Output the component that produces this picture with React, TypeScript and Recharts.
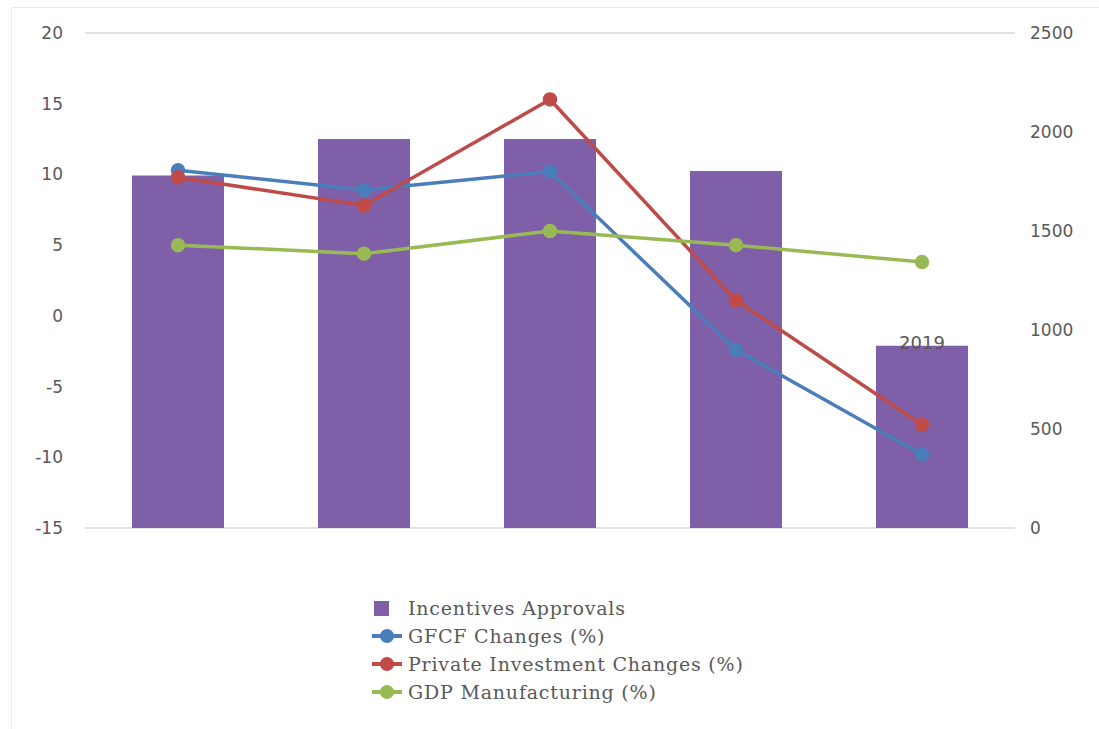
import React from 'react';
import { ComposedChart, Bar, Line, XAxis, YAxis, CartesianGrid, Legend, LabelList } from 'recharts';

const years = ['2015', '2016', '2017', '2018', '2019'];
const incentives = [1780, 1965, 1965, 1803, 920];
const gfcf = [10.3, 8.9, 10.2, -2.4, -9.8];
const privateInv = [9.8, 7.8, 15.3, 1.1, -7.7];
const gdpManuf = [5.0, 4.4, 6.0, 5.0, 3.8];

const leftTicks = [-15, -10, -5, 0, 5, 10, 15, 20];
const rightTicks = [0, 500, 1000, 1500, 2000, 2500];

const data = years.map((year, i) => ({
  year,
  incentives: incentives[i],
  gfcf: gfcf[i],
  privateInv: privateInv[i],
  gdpManuf: gdpManuf[i],
}));

const PURPLE = '#7f60a8';
const BLUE = '#4a7ebb';
const RED = '#be4b48';
const GREEN = '#98b954';
const TEXT = '#595959';

const legendItems = [
  { label: 'Incentives Approvals', color: PURPLE, type: 'bar' },
  { label: 'GFCF Changes (%)', color: BLUE, type: 'line' },
  { label: 'Private Investment Changes (%)', color: RED, type: 'line' },
  { label: 'GDP Manufacturing (%)', color: GREEN, type: 'line' },
];

const renderLegend = () => (
  <div style={{ fontFamily: '"DejaVu Serif", serif', fontSize: 19, letterSpacing: 0.8, color: TEXT }}>
    {legendItems.map((item) => (
      <div key={item.label} style={{ display: 'flex', alignItems: 'center', height: 28 }}>
        <svg width={34} height={20} style={{ marginRight: 2 }}>
          {item.type === 'bar' ? (
            <rect x={2} y={3} width={15} height={15} fill={item.color} />
          ) : (
            <>
              <line x1={0} y1={10} x2={30} y2={10} stroke={item.color} strokeWidth={4} />
              <circle cx={15} cy={10} r={7} fill={item.color} />
            </>
          )}
        </svg>
        <span>{item.label}</span>
      </div>
    ))}
  </div>
);

const tickStyle = { fill: TEXT, fontSize: 17, fontFamily: '"DejaVu Sans", sans-serif' };

export default function App() {
  return (
    <div style={{ position: 'absolute', left: 0, top: 0, width: 1099, height: 729, background: '#fff', overflow: 'hidden' }}>
      <div style={{ position: 'absolute', left: 11, top: 7, width: 1200, height: 800, borderLeft: '1px solid #ececec', borderTop: '1px solid #ececec' }} />
      <ComposedChart
        width={1099}
        height={729}
        data={data}
        margin={{ top: 33, right: 0, bottom: 201, left: 0 }}
        style={{ position: 'absolute', left: 0, top: 0 }}
      >
        <CartesianGrid vertical={false} stroke="#d9d9d9" strokeWidth={1.5} />
        <XAxis dataKey="year" hide />
        <YAxis
          yAxisId="left"
          domain={[-15, 20]}
          ticks={leftTicks}
          width={85}
          axisLine={false}
          tickLine={false}
          tickMargin={16}
          tick={tickStyle}
          interval={0}
        />
        <YAxis
          yAxisId="right"
          orientation="right"
          domain={[0, 2500]}
          ticks={rightTicks}
          width={84}
          axisLine={false}
          tickLine={false}
          tickMargin={9}
          tick={{ ...tickStyle, textAnchor: 'start' }}
          interval={0}
        />
        <Bar yAxisId="right" dataKey="incentives" fill={PURPLE} barSize={92} isAnimationActive={false}>
          <LabelList
            dataKey="year"
            position="top"
            offset={-3}
            fill={TEXT}
            fontSize={18}
            fontFamily='"DejaVu Sans", sans-serif'
            formatter={(v: string) => (v === years[years.length - 1] ? v : '')}
          />
        </Bar>
        <Line yAxisId="left" type="linear" dataKey="gfcf" stroke={BLUE} strokeWidth={3.5} dot={{ r: 5.5, fill: BLUE, stroke: BLUE }} isAnimationActive={false} />
        <Line yAxisId="left" type="linear" dataKey="privateInv" stroke={RED} strokeWidth={3.5} dot={{ r: 5.5, fill: RED, stroke: RED }} isAnimationActive={false} />
        <Line yAxisId="left" type="linear" dataKey="gdpManuf" stroke={GREEN} strokeWidth={3.5} dot={{ r: 5.5, fill: GREEN, stroke: GREEN }} isAnimationActive={false} />
        <Legend
          layout="vertical"
          align="center"
          verticalAlign="middle"
          content={renderLegend}
          wrapperStyle={{ top: 594, left: 372, width: 440 }}
        />
      </ComposedChart>
    </div>
  );
}
